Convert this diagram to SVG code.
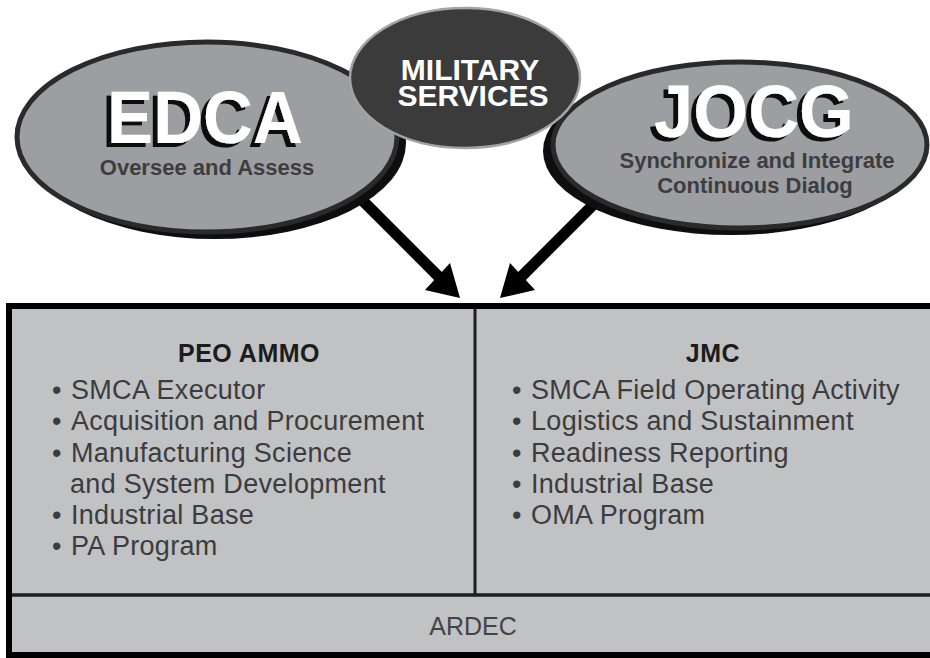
<svg xmlns="http://www.w3.org/2000/svg" width="930" height="658" viewBox="0 0 930 658">
<defs>
<filter id="txtshadow" x="-10%" y="-10%" width="120%" height="130%">
<feDropShadow dx="-5" dy="4" stdDeviation="0" flood-color="#0e0e0e" flood-opacity="1"/>
</filter>
<style>
.shadow{fill:#0e0e0e}
.oval{fill:#9d9ea1;stroke:#2a2a2a;stroke-width:5}
.big{font-family:"Liberation Sans",Arial,sans-serif;font-weight:bold;font-size:74px;text-anchor:middle;fill:#ffffff;filter:url(#txtshadow)}
.sub{font-family:"Liberation Sans",Arial,sans-serif;font-weight:bold;font-size:22px;fill:#3d3d3f;text-anchor:middle}
.mil{font-family:"Liberation Sans",Arial,sans-serif;font-weight:bold;font-size:30px;fill:#ffffff;text-anchor:middle}
.head{font-family:"Liberation Sans",Arial,sans-serif;font-weight:bold;font-size:25px;fill:#1c1c1c;text-anchor:middle;letter-spacing:0.5px}
.item{font-family:"Liberation Sans",Arial,sans-serif;font-size:27px;fill:#3c3c3e;letter-spacing:0.3px}
.arrow{stroke:#000;stroke-width:11;fill:none}
</style>
</defs>
<g id="connectors">
<line class="arrow" x1="350" y1="188" x2="440" y2="278"/>
<polygon points="460,298 425,290 450,263" fill="#000"/>
<line class="arrow" x1="610" y1="188" x2="520" y2="278"/>
<polygon points="500,298 535,290 510,263" fill="#000"/>
</g>
<g id="edca">
<ellipse class="shadow" cx="215" cy="143" rx="191" ry="96"/>
<ellipse class="oval" cx="207" cy="137" rx="190" ry="95"/>
<text class="big" x="205" y="143" textLength="196" lengthAdjust="spacingAndGlyphs">EDCA</text>
<text class="sub" x="207" y="175">Oversee and Assess</text>
</g>
<g id="jocg">
<ellipse class="shadow" cx="731" cy="151" rx="188" ry="84"/>
<ellipse class="oval" cx="740" cy="145" rx="187" ry="83"/>
<text class="big" x="754" y="137" textLength="200" lengthAdjust="spacingAndGlyphs">JOCG</text>
<text class="sub" x="757" y="168">Synchronize and Integrate</text>
<text class="sub" x="755" y="193">Continuous Dialog</text>
</g>
<g id="military-services">
<ellipse cx="465" cy="78" rx="115" ry="70" fill="#3b3b3b" stroke="#a3a3a5" stroke-width="2.5"/>
<text class="mil" x="470" y="80">MILITARY</text>
<text class="mil" x="473" y="106">SERVICES</text>
</g>
<g id="frame">
<rect x="9" y="306" width="930" height="349" fill="#c1c2c4" stroke="#000" stroke-width="6"/>
<line x1="12" y1="595" x2="930" y2="595" stroke="#1e1e1e" stroke-width="3.5"/>
<line x1="475" y1="309" x2="475" y2="595" stroke="#1e1e1e" stroke-width="3"/>
</g>
<g id="peo-ammo">
<text class="head" x="249" y="362">PEO AMMO</text>
<text class="item" y="399"><tspan x="52">•</tspan><tspan x="71">SMCA Executor</tspan></text>
<text class="item" y="430"><tspan x="52">•</tspan><tspan x="71">Acquisition and Procurement</tspan></text>
<text class="item" y="462"><tspan x="52">•</tspan><tspan x="71">Manufacturing Science</tspan></text>
<text class="item" y="493"><tspan x="70">and System Development</tspan></text>
<text class="item" y="524"><tspan x="52">•</tspan><tspan x="71">Industrial Base</tspan></text>
<text class="item" y="555"><tspan x="52">•</tspan><tspan x="71">PA Program</tspan></text>
</g>
<g id="jmc">
<text class="head" x="713" y="362">JMC</text>
<text class="item" y="399"><tspan x="512">•</tspan><tspan x="531">SMCA Field Operating Activity</tspan></text>
<text class="item" y="430"><tspan x="512">•</tspan><tspan x="531">Logistics and Sustainment</tspan></text>
<text class="item" y="462"><tspan x="512">•</tspan><tspan x="531">Readiness Reporting</tspan></text>
<text class="item" y="493"><tspan x="512">•</tspan><tspan x="531">Industrial Base</tspan></text>
<text class="item" y="524"><tspan x="512">•</tspan><tspan x="531">OMA Program</tspan></text>
</g>
<g id="ardec">
<text x="473" y="635" font-family="Liberation Sans, Arial, sans-serif" font-size="25" fill="#444446" text-anchor="middle">ARDEC</text>
</g>
</svg>
